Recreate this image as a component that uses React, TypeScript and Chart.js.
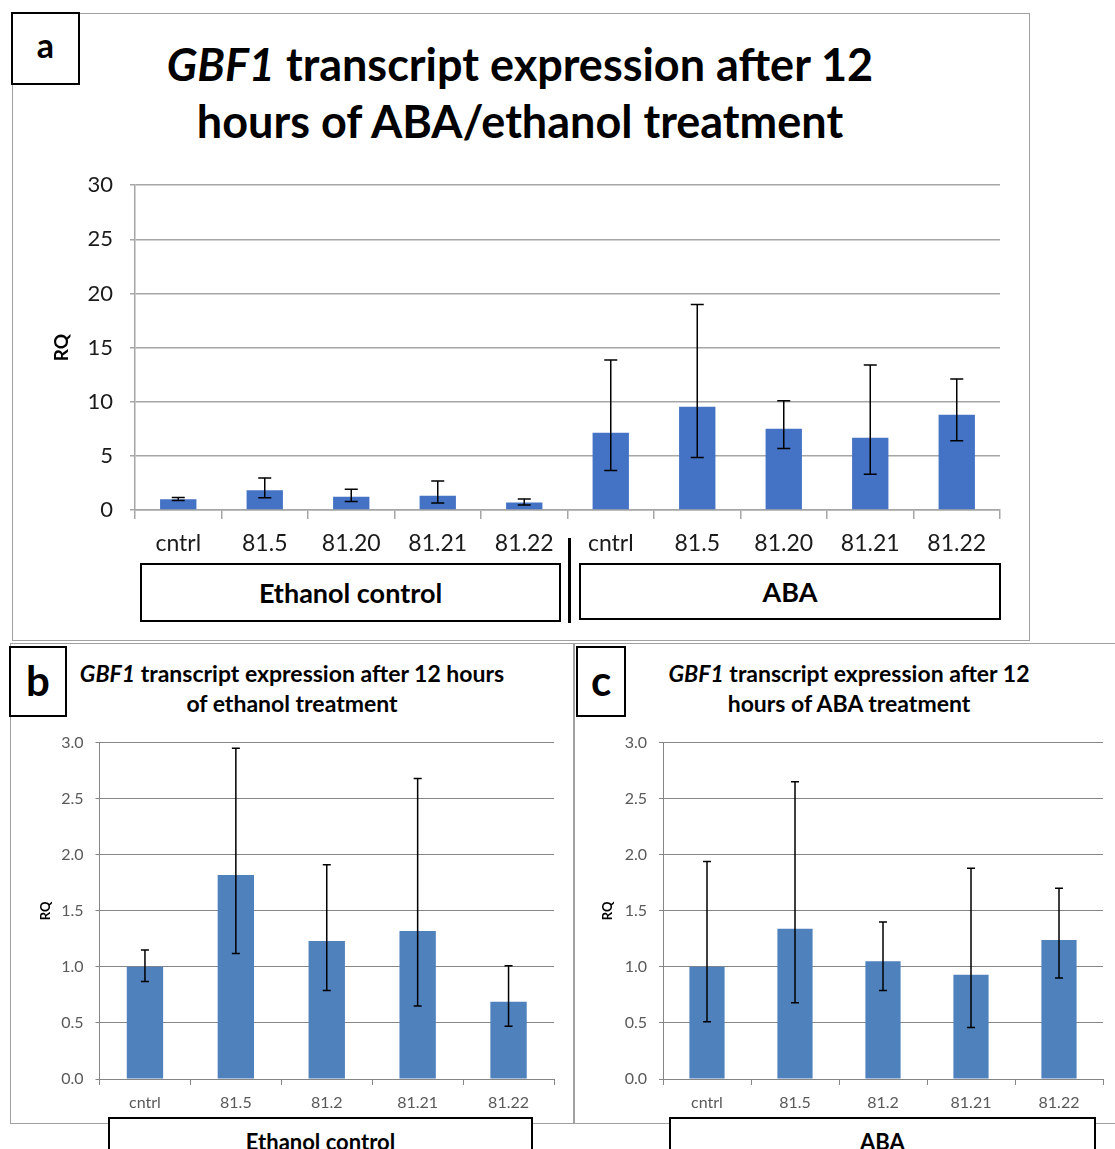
import React, { useEffect, useRef } from 'react';
import { Chart, registerables } from 'chart.js';

Chart.register(...registerables);
Chart.defaults.font.family = 'Lato, "Open Sans", sans-serif';

// ---------- data ----------
const categoriesA = ['cntrl', '81.5', '81.20', '81.21', '81.22', 'cntrl', '81.5', '81.20', '81.21', '81.22'];
const rqA = [1.0, 1.82, 1.23, 1.32, 0.69, 7.13, 9.54, 7.5, 6.67, 8.8];
const lowA = [0.87, 1.12, 0.79, 0.65, 0.47, 3.64, 4.85, 5.68, 3.3, 6.39];
const highA = [1.15, 2.95, 1.91, 2.68, 1.01, 13.86, 18.98, 10.09, 13.4, 12.1];

const categoriesB = ['cntrl', '81.5', '81.2', '81.21', '81.22'];
const rqB = [1.0, 1.82, 1.23, 1.32, 0.69];
const lowB = [0.87, 1.12, 0.79, 0.65, 0.47];
const highB = [1.15, 2.95, 1.91, 2.68, 1.01];

const categoriesC = ['cntrl', '81.5', '81.2', '81.21', '81.22'];
const rqC = [1.0, 1.34, 1.05, 0.93, 1.24];
const lowC = [0.51, 0.68, 0.79, 0.46, 0.9];
const highC = [1.94, 2.65, 1.4, 1.88, 1.7];

const errorBarPlugin = {
  id: 'errorBars',
  afterDatasetsDraw(chart: any, _args: any, opts: any) {
    const meta = chart.getDatasetMeta(0);
    const y = chart.scales.y;
    const ctx = chart.ctx;
    ctx.save();
    ctx.strokeStyle = opts.color || '#000';
    ctx.lineWidth = opts.lineWidth || 1.5;
    meta.data.forEach((el: any, i: number) => {
      const x = el.x;
      const yl = y.getPixelForValue(opts.low[i]);
      const yh = y.getPixelForValue(opts.high[i]);
      const c = opts.cap / 2;
      ctx.beginPath();
      ctx.moveTo(x, yl);
      ctx.lineTo(x, yh);
      ctx.moveTo(x - c, yl);
      ctx.lineTo(x + c, yl);
      ctx.moveTo(x - c, yh);
      ctx.lineTo(x + c, yh);
      ctx.stroke();
    });
    ctx.restore();
  },
};

type PanelProps = {
  left: number; top: number; width: number; height: number;
  labels: string[]; values: number[]; low: number[]; high: number[];
  yMax: number; yStep: number; decimals: number; color: string;
  yWidth: number; padRight: number; padTop: number; xHeight: number;
  barPct: number; yFont: number; xFont: number; tickColor: string;
  gridColor: string; gridWidth: number; titleSize: number; titlePad: number;
  yTickLen: number; yTickPad: number; xTickLen: number; xTickPad: number;
  cap: number; errWidth: number;
};

function BarPanel(p: PanelProps) {
  const ref = useRef<HTMLCanvasElement | null>(null);
  useEffect(() => {
    if (!ref.current) return;
    const chart = new Chart(ref.current, {
      type: 'bar',
      data: {
        labels: p.labels,
        datasets: [{
          data: p.values,
          backgroundColor: p.color,
          borderWidth: 0,
          barPercentage: p.barPct,
          categoryPercentage: 1,
        }],
      },
      plugins: [errorBarPlugin],
      options: {
        responsive: false,
        animation: false,
        layout: { autoPadding: false, padding: { left: 0, right: p.padRight, top: p.padTop, bottom: 0 } },
        plugins: {
          legend: { display: false },
          tooltip: { enabled: false },
          errorBars: { low: p.low, high: p.high, cap: p.cap, lineWidth: p.errWidth, color: '#000' },
        } as any,
        scales: {
          x: {
            afterFit: (s: any) => { s.height = p.xHeight; },
            grid: { drawOnChartArea: false, drawTicks: true, tickLength: p.xTickLen, color: p.gridColor, lineWidth: p.gridWidth },
            border: { color: p.gridColor, width: p.gridWidth },
            ticks: { color: p.tickColor, font: { size: p.xFont }, padding: p.xTickPad, maxRotation: 0, autoSkip: false },
          },
          y: {
            min: 0, max: p.yMax,
            afterFit: (s: any) => { s.width = p.yWidth; },
            grid: { color: p.gridColor, lineWidth: p.gridWidth, tickLength: p.yTickLen },
            border: { color: p.gridColor, width: p.gridWidth },
            ticks: {
              stepSize: p.yStep, color: p.tickColor, font: { size: p.yFont }, padding: p.yTickPad,
              callback: (v: any) => Number(v).toFixed(p.decimals),
            },
            title: { display: true, text: 'RQ', color: '#000', font: { size: p.titleSize, weight: 'bold' }, padding: { top: p.titlePad, bottom: 0 } },
          },
        },
      } as any,
    });
    return () => chart.destroy();
  }, []);
  return (
    <canvas ref={ref} width={p.width} height={p.height}
      style={{ position: 'absolute', left: p.left, top: p.top, width: p.width, height: p.height }} />
  );
}

const abs = (s: any) => ({ position: 'absolute', boxSizing: 'border-box', ...s } as React.CSSProperties);

export default function App() {
  return (
    <div style={abs({ left: 0, top: 0, width: 1115, height: 1149, overflow: 'hidden', background: '#fff', fontFamily: 'Lato, sans-serif', color: '#000' })}>
      {/* panel frames */}
      <div style={abs({ left: 12, top: 13, width: 1018, height: 628, border: '1px solid #a0a0a0' })} />
      <div style={abs({ left: 10, top: 643, width: 564, height: 481, border: '1px solid #a0a0a0' })} />
      <div style={abs({ left: 574, top: 643, width: 560, height: 481, border: '1px solid #a0a0a0' })} />

      {/* panel a */}
      <div style={abs({ left: 70, top: 36, width: 900, textAlign: 'center', fontSize: 45, fontWeight: 700, lineHeight: '57px', whiteSpace: 'nowrap' })}>
        <i>GBF1</i> transcript expression after 12<br />hours of ABA/ethanol treatment
      </div>
      <BarPanel left={40} top={155} width={980} height={415}
        labels={categoriesA} values={rqA} low={lowA} high={highA}
        yMax={30} yStep={5} decimals={0} color="#4472C4"
        yWidth={95} padRight={20} padTop={14} xHeight={60} barPct={0.42}
        yFont={22} xFont={23} tickColor="#1a1a1a" gridColor="#a6a6a6" gridWidth={1.5}
        titleSize={19} titlePad={10} yTickLen={5} yTickPad={17} xTickLen={9} xTickPad={11}
        cap={13} errWidth={1.5} />
      <div style={abs({ left: 568, top: 538, width: 3, height: 85, background: '#000' })} />
      <div style={abs({ left: 140, top: 563, width: 421, height: 59, border: '2px solid #000', fontSize: 27, fontWeight: 700, display: 'flex', alignItems: 'center', justifyContent: 'center', background: '#fff' })}>Ethanol control</div>
      <div style={abs({ left: 579, top: 563, width: 422, height: 57, border: '2px solid #000', fontSize: 27, fontWeight: 700, display: 'flex', alignItems: 'center', justifyContent: 'center', background: '#fff' })}>ABA</div>
      <div style={abs({ left: 11, top: 12, width: 69, height: 73, border: '2px solid #000', background: '#fff', fontSize: 34, fontWeight: 700, display: 'flex', alignItems: 'center', justifyContent: 'center', paddingBottom: 8 })}>a</div>

      {/* panel b */}
      <div style={abs({ left: 32, top: 658, width: 520, textAlign: 'center', fontSize: 23, fontWeight: 700, lineHeight: '30px', whiteSpace: 'nowrap' })}>
        <i>GBF1</i> transcript expression after 12 hours<br />of ethanol treatment
      </div>
      <BarPanel left={10} top={721} width={560} height={399}
        labels={categoriesB} values={rqB} low={lowB} high={highB}
        yMax={3} yStep={0.5} decimals={1} color="#4F81BD"
        yWidth={89.5} padRight={16} padTop={16} xHeight={41} barPct={0.4}
        yFont={16} xFont={16} tickColor="#595959" gridColor="#868686" gridWidth={1}
        titleSize={13} titlePad={28} yTickLen={4} yTickPad={12} xTickLen={6} xTickPad={8}
        cap={8} errWidth={1.5} />
      <div style={abs({ left: 108, top: 1117, width: 425, height: 60, border: '2px solid #000', background: '#fff', fontSize: 22, fontWeight: 700, textAlign: 'center', paddingTop: 10, lineHeight: '26px' })}>Ethanol control</div>
      <div style={abs({ left: 9, top: 646, width: 58, height: 71, border: '2px solid #000', background: '#fff', fontSize: 42, fontWeight: 700, display: 'flex', alignItems: 'center', justifyContent: 'center', paddingBottom: 4 })}>b</div>

      {/* panel c */}
      <div style={abs({ left: 589, top: 658, width: 520, textAlign: 'center', fontSize: 23, fontWeight: 700, lineHeight: '30px', whiteSpace: 'nowrap' })}>
        <i>GBF1</i> transcript expression after 12<br />hours of ABA treatment
      </div>
      <BarPanel left={574} top={721} width={541} height={399}
        labels={categoriesC} values={rqC} low={lowC} high={highC}
        yMax={3} yStep={0.5} decimals={1} color="#4F81BD"
        yWidth={89} padRight={12} padTop={16} xHeight={41} barPct={0.4}
        yFont={16} xFont={16} tickColor="#595959" gridColor="#868686" gridWidth={1}
        titleSize={13} titlePad={26} yTickLen={4} yTickPad={12} xTickLen={6} xTickPad={8}
        cap={8} errWidth={1.5} />
      <div style={abs({ left: 669, top: 1117, width: 427, height: 60, border: '2px solid #000', background: '#fff', fontSize: 22, fontWeight: 700, textAlign: 'center', paddingTop: 10, lineHeight: '26px' })}>ABA</div>
      <div style={abs({ left: 576, top: 646, width: 50, height: 71, border: '2px solid #000', background: '#fff', fontSize: 42, fontWeight: 700, display: 'flex', alignItems: 'center', justifyContent: 'center', paddingBottom: 4 })}>c</div>
    </div>
  );
}
